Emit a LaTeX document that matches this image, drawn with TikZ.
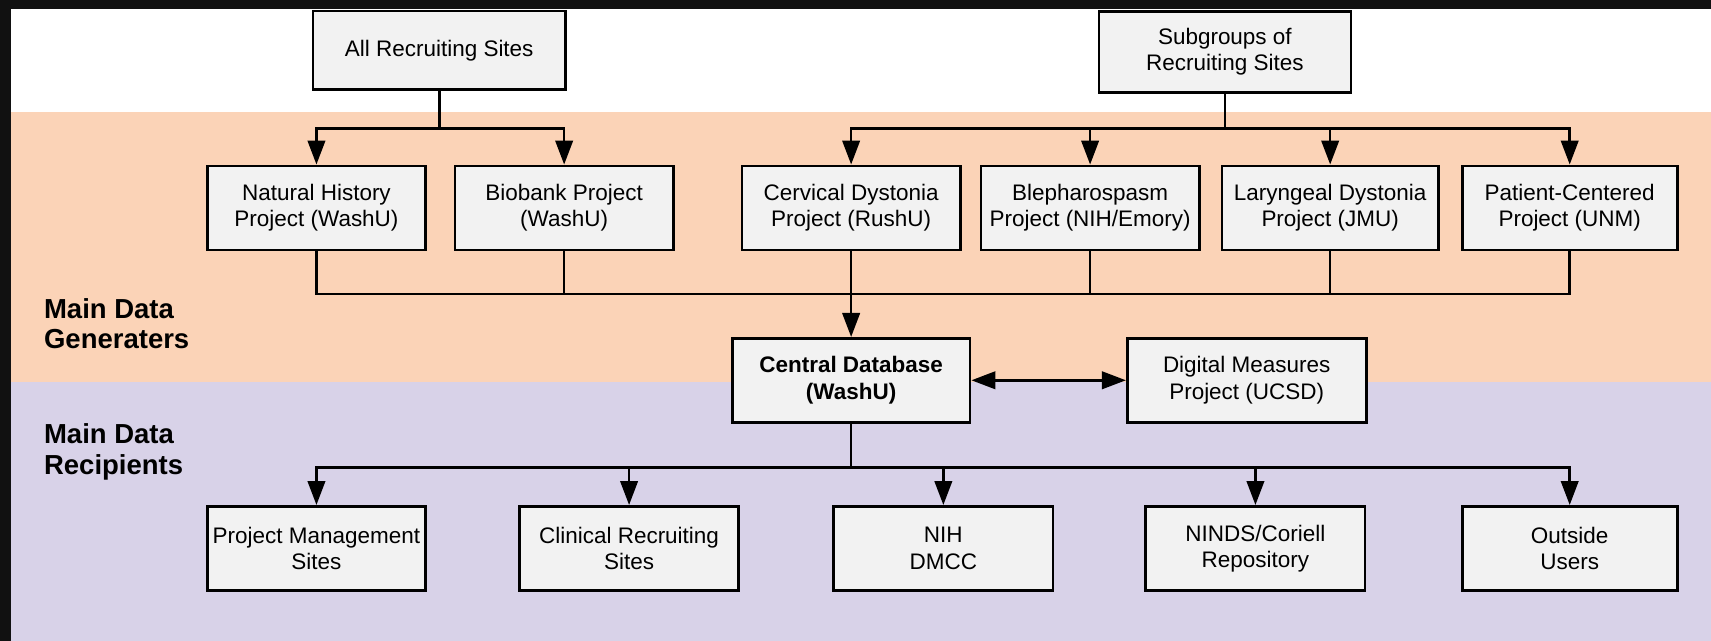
\documentclass[tikz,border=0pt]{standalone}
\usepackage{fontspec}
\setmainfont{Liberation Sans}
\usetikzlibrary{arrows.meta,calc}
\definecolor{peach}{RGB}{251,211,183}
\definecolor{lav}{RGB}{216,210,232}
\definecolor{boxfill}{RGB}{242,242,242}
\definecolor{frame}{RGB}{17,17,17}
\tikzset{
  box/.style={draw=black, line width=1.2pt, fill=boxfill, align=center, inner sep=0pt,
    minimum height=38.5pt, font=\fontsize{10.3}{12}\selectfont},
  lane/.style={align=left, anchor=west, inner sep=0pt, font=\bfseries\fontsize{12.6}{14}\selectfont},
  conn/.style={line width=1.2pt, draw=black},
  arr/.style={conn, -{Triangle[length=11pt,width=8pt]}},
  arrboth/.style={conn, {Triangle[length=11pt,width=8pt]}-{Triangle[length=11pt,width=8pt]}}
}
\begin{document}
\begin{tikzpicture}[x=0.5pt,y=-0.5pt]
\useasboundingbox (0,0) rectangle (1568,587);
% backgrounds
\fill[frame] (0,0) rectangle (1568,587);
\fill[white] (10,8) rectangle (1568,103);
\fill[peach] (10,103) rectangle (1568,350);
\fill[lav] (10,350) rectangle (1568,587);

% lane labels
\node[lane] (gen) at (40,296.5) {Main Data\\Generaters};
\node[lane] (rec) at (40,414) {Main Data\\Recipients};

% top sources
\node[box, minimum width=115.5pt, minimum height=36pt] (all) at (402.5,46) {All Recruiting Sites};
\node[box, minimum width=115.5pt, minimum height=37pt] (sub) at (1122.5,47.5) {Subgroups of\\Recruiting Sites};

% projects
\node[box, minimum width=100pt] (nh)  at (290,190.5) {Natural History\\Project (WashU)};
\node[box, minimum width=100pt] (bio) at (517,190.5) {Biobank Project\\(WashU)};
\node[box, minimum width=100pt] (cer) at (780,190.5) {Cervical Dystonia\\Project (RushU)};
\node[box, minimum width=100pt] (ble) at (999,190.5) {Blepharospasm\\Project (NIH/Emory)};
\node[box, minimum width=99pt]  (lar) at (1219,190.5) {Laryngeal Dystonia\\Project (JMU)};
\node[box, minimum width=98.5pt] (pat) at (1438.5,190.5) {Patient-Centered\\Project (UNM)};

% central
\node[box, minimum width=109pt, font=\bfseries\fontsize{10.3}{12}\selectfont] (cen) at (780,348.5) {Central Database\\(WashU)};
\node[box, minimum width=109.5pt] (dig) at (1142.5,348.5) {Digital Measures\\Project (UCSD)};

% recipients
\node[box, minimum width=100pt] (pm)  at (290,502.5) {Project Management\\Sites};
\node[box, minimum width=100.5pt] (cr)  at (576.5,502.5) {Clinical Recruiting\\Sites};
\node[box, minimum width=100.5pt] (nih) at (864.5,502.5) {NIH\\DMCC};
\node[box, minimum width=100.5pt] (nin) at (1150.5,502.5) {NINDS/Coriell\\Repository};
\node[box, minimum width=98.5pt] (out) at (1438.5,502.5) {Outside\\Users};

% connectors: all recruiting sites
\coordinate (t1) at (402.5,118);
\draw[conn] (all.south) -- (t1);
\draw[arr] (t1) -| (nh.north);
\draw[arr] (t1) -| (bio.north);

% subgroups
\coordinate (t2) at (1122.5,118);
\draw[conn] (sub.south) -- (t2);
\draw[arr] (t2) -| (cer.north);
\draw[arr] (t2) -| (ble.north);
\draw[arr] (t2) -| (lar.north);
\draw[arr] (t2) -| (pat.north);

% collector to central database
\coordinate (m) at (780,269.5);
\draw[conn] (nh.south) |- (m);
\draw[conn] (pat.south) |- (m);
\draw[conn] (bio.south) -- (bio.south |- m);
\draw[conn] (ble.south) -- (ble.south |- m);
\draw[conn] (lar.south) -- (lar.south |- m);
\draw[arr] (cer.south) -- (cen.north);

% central <-> digital
\draw[arrboth] (cen.east) -- (dig.west);

% distribution
\coordinate (b) at (780,428.5);
\draw[conn] (cen.south) -- (b);
\draw[arr] (b) -| (pm.north);
\draw[arr] (b) -| (cr.north);
\draw[arr] (b) -| (nih.north);
\draw[arr] (b) -| (nin.north);
\draw[arr] (b) -| (out.north);
\end{tikzpicture}
\end{document}
